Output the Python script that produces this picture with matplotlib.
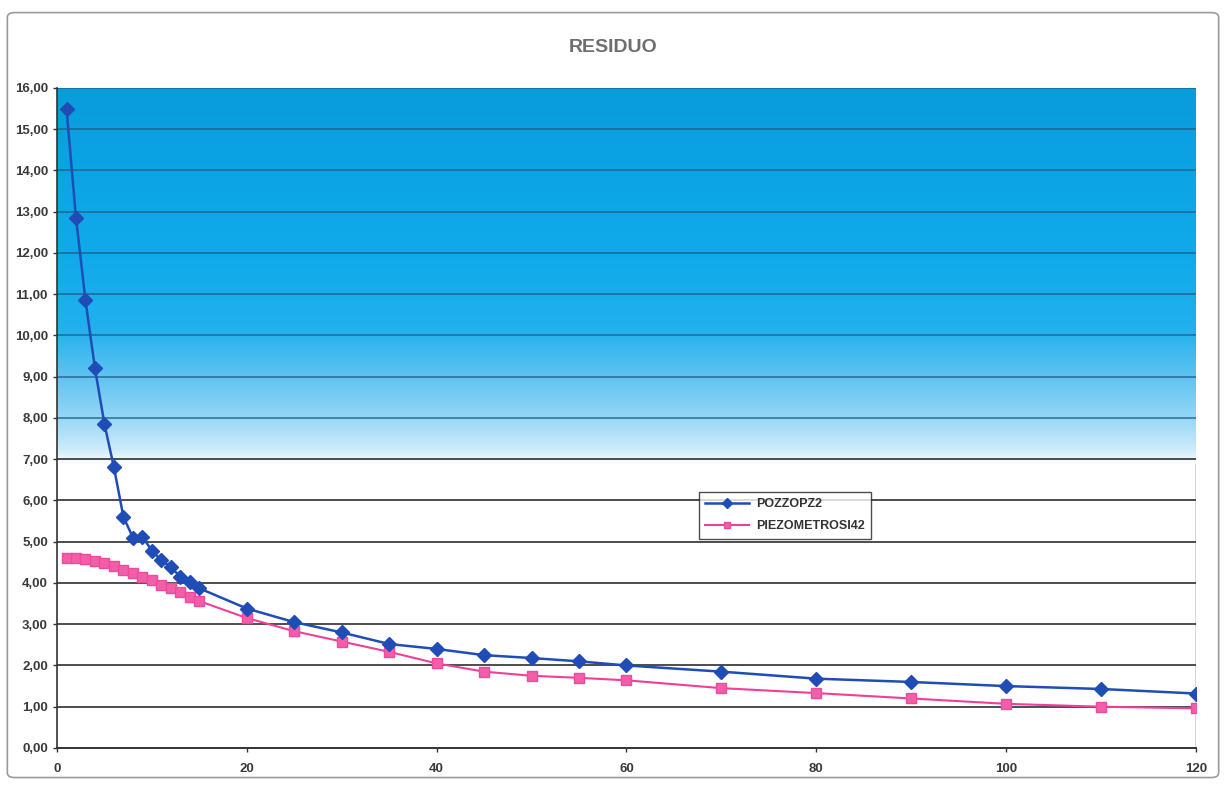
import matplotlib
matplotlib.use("Agg")
import matplotlib.pyplot as plt
import numpy as np
from matplotlib.colors import LinearSegmentedColormap
from matplotlib.patches import FancyBboxPatch
from matplotlib.ticker import FuncFormatter

plt.rcParams["font.family"] = ["Liberation Sans", "DejaVu Sans"]

# time (minutes) and residual drawdown for the two wells
minutes = [1, 2, 3, 4, 5, 6, 7, 8, 9, 10, 11, 12, 13, 14, 15,
           20, 25, 30, 35, 40, 45, 50, 55, 60, 70, 80, 90, 100, 110, 120]
pozzo_pz2 = [15.50, 12.85, 10.85, 9.20, 7.85, 6.80, 5.60, 5.10, 5.12, 4.78,
             4.55, 4.38, 4.15, 4.02, 3.87,
             3.38, 3.05, 2.80, 2.52, 2.40, 2.25, 2.18, 2.10, 2.00, 1.85,
             1.68, 1.60, 1.50, 1.43, 1.32]
piezometro_si42 = [4.60, 4.60, 4.58, 4.54, 4.48, 4.40, 4.32, 4.24, 4.15, 4.06,
                   3.96, 3.87, 3.77, 3.66, 3.56,
                   3.15, 2.83, 2.58, 2.33, 2.05, 1.85, 1.75, 1.70, 1.64, 1.45,
                   1.33, 1.20, 1.07, 1.00, 0.96]

series_names = ["POZZOPZ2", "PIEZOMETROSI42"]
title = "RESIDUO"

fig = plt.figure(figsize=(12.26, 7.87), dpi=100)
fig.patch.set_facecolor("white")

# rounded chart-area frame
frame = FancyBboxPatch((0.006, 0.012), 0.988, 0.972, boxstyle="round,pad=0,rounding_size=0.006",
                       transform=fig.transFigure, facecolor="none", edgecolor="#9a9a9a",
                       linewidth=1.2)
fig.patches.append(frame)

ax = fig.add_axes([0.0465, 0.0496, 0.929, 0.8386])
ax.set_xlim(0, 120)
ax.set_ylim(0, 16)

# blue gradient band in the upper part of the plot area
grad_cmap = LinearSegmentedColormap.from_list(
    "sky", [(0.0, "#ffffff"), (0.04, "#cdebfa"), (0.13, "#92d5f6"),
            (0.24, "#5cc2f1"), (0.36, "#22b0ee"), (0.55, "#10aaeb"),
            (0.8, "#0ca3e4"), (1.0, "#0a9bdb")])
grad = np.linspace(0, 1, 256).reshape(-1, 1)
ax.imshow(grad, extent=[0, 120, 6.85, 16], origin="lower", aspect="auto",
          cmap=grad_cmap, zorder=0, interpolation="bicubic")

for level in range(1, 17):
    ax.axhline(level, color="#2a2a2a" if level <= 7 else "#1c5f86",
               linewidth=1.3, alpha=0.9 if level <= 7 else 0.75, zorder=1)
ax.vlines(120, 0, 6.9, color="#333333", linewidth=1.0, zorder=1)

ax.plot(minutes, pozzo_pz2, color="#1f4db5", linewidth=1.8, marker="D",
        markersize=7, markerfacecolor="#1f4db5", markeredgecolor="#1f4db5",
        label=series_names[0], zorder=4)
ax.plot(minutes, piezometro_si42, color="#ef3f97", linewidth=1.5, marker="s",
        markersize=7, markerfacecolor="#f25ea8", markeredgecolor="#ef4a9c",
        label=series_names[1], zorder=3)

for side in ["top", "right"]:
    ax.spines[side].set_visible(False)
ax.spines["left"].set_color("#333333")
ax.spines["bottom"].set_color("#333333")
ax.spines["left"].set_linewidth(1.2)
ax.spines["bottom"].set_linewidth(1.4)

ax.set_yticks(range(0, 17))
ax.set_xticks(range(0, 121, 20))
ax.yaxis.set_major_formatter(FuncFormatter(lambda v, _: f"{v:.2f}".replace(".", ",")))
ax.tick_params(axis="both", labelsize=9.5, labelcolor="#3a3a3a", color="#333333",
               length=3, width=1)
ax.tick_params(axis="x", pad=8)
for label in ax.get_xticklabels() + ax.get_yticklabels():
    label.set_fontweight("bold")

fig.text(0.5, 0.94, title, ha="center", va="center", fontsize=14,
         color="#6e6e6e", fontweight="bold")

leg = ax.legend(loc="upper left", bbox_to_anchor=(0.558, 0.397), frameon=True,
                fancybox=False, edgecolor="#222222", fontsize=9, handlelength=3.5,
                borderpad=0.5, labelspacing=0.8, handletextpad=0.6, markerscale=0.7)
leg.get_frame().set_linewidth(1.0)
for text in leg.get_texts():
    text.set_fontweight("bold")
    text.set_color("#333333")

fig.savefig("out.png", dpi=100)
